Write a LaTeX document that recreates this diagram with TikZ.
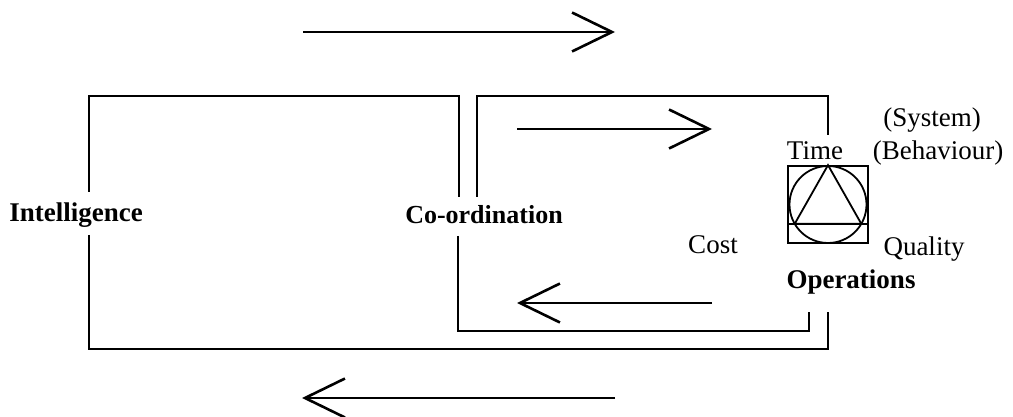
\documentclass[tikz,border=0pt]{standalone}
\usepackage{fontspec}
\setmainfont{Liberation Serif}
\usetikzlibrary{arrows.meta,calc}
\tikzset{
  lbl/.style={anchor=base, inner sep=0pt, font=\fontsize{27}{30}\selectfont},
  unit/.style={lbl, font=\fontsize{27}{30}\selectfont\bfseries},
  frame/.style={line width=1.8pt},
  flow/.style={line width=1.8pt, -{Straight Barb[length=40pt,width=39pt,line width=2.6pt]}},
}
\begin{document}
\begin{tikzpicture}[x=1pt,y=-1pt]
\useasboundingbox (0,0) rectangle (1013,417);

% labels
\node[unit] (intel) at (76,222) {Intelligence};
\node[unit, font=\fontsize{26}{30}\selectfont\bfseries] (coord) at (484,223) {Co-ordination};
\node[unit] (opsname) at (851,288) {Operations};
\node[lbl] (time) at (815,160) {Time};
\node[lbl] (sys) at (932,127) {(System)};
\node[lbl] (behav) at (938,160) {(Behaviour)};
\node[lbl] (cost) at (713,254) {Cost};
\node[lbl] (qual) at (924,255) {Quality};

% time / cost / quality symbol
\node[draw, frame, minimum width=80pt, minimum height=77pt, inner sep=0pt] (ops) at (828,204.5) {};
\draw[frame] (ops.center) circle (38.5pt);
\draw[frame] (ops.north) -- ($(ops.center)+(-33.3,19.3)$) -- ($(ops.center)+(33.3,19.3)$) -- cycle;
\draw[frame] ($(ops.west)+(0,19.3)$) -- ($(ops.east)+(0,19.3)$);

% free ends of the arrows
\coordinate (topL) at (303,32);   \coordinate (topR) at (615,32);
\coordinate (botR) at (615,398);  \coordinate (botL) at (302,398);
\coordinate (inTopL) at (517,129); \coordinate (inTopR) at (712,129);
\coordinate (inBotR) at (712,303); \coordinate (inBotL) at (517,303);

% arrows
\draw[flow] (topL) -- (topR);
\draw[flow] (botR) -- (botL);
\draw[flow] (inTopL) -- (inTopR);
\draw[flow] (inBotR) -- (inBotL);

% outer loop
\draw[frame] (459,197) |- (89,96) -- (89,192);
\draw[frame] (89,235) |- (828,349) -- (828,312);
% inner loop
\draw[frame] (477,197) |- (828,96) -- (828,135);
\draw[frame] (458,236) |- (809,331) -- (809,312);
\end{tikzpicture}
\end{document}
